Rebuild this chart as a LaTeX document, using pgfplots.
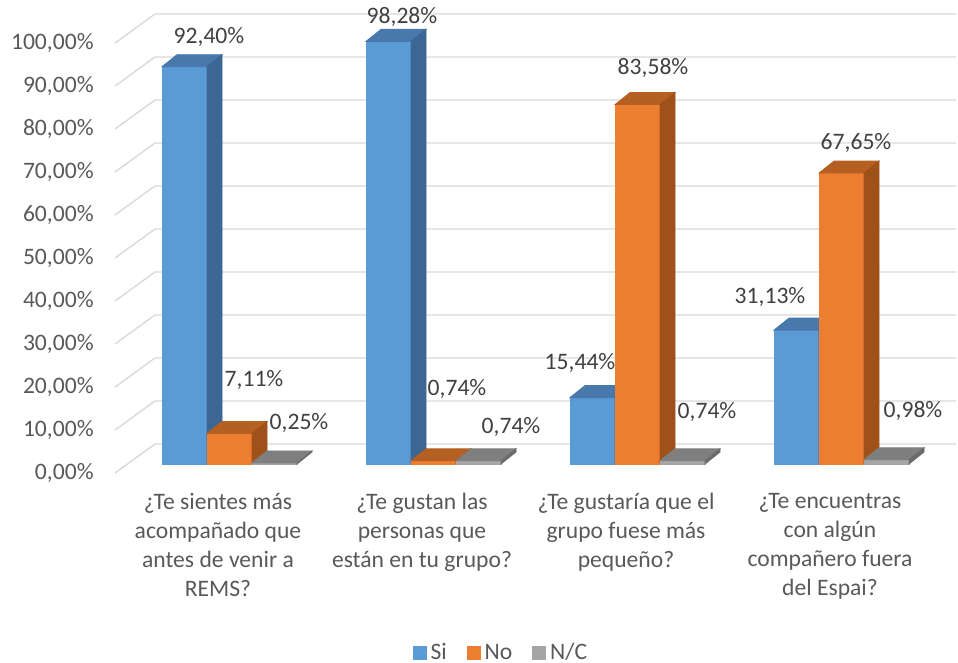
\documentclass[border=0pt]{standalone}
\usepackage{pgfplots}
\pgfplotsset{compat=1.18}
\usepackage{pgfplotstable}
\usepackage{fontspec}
\setmainfont{Carlito}

\definecolor{siF}{HTML}{5B9BD5}
\definecolor{siS}{HTML}{3C6795}
\definecolor{siT}{HTML}{4878AC}
\definecolor{noF}{HTML}{ED7D31}
\definecolor{noS}{HTML}{9E5219}
\definecolor{noT}{HTML}{B65F22}
\definecolor{ncF}{HTML}{A5A5A5}
\definecolor{ncS}{HTML}{6B6B6B}
\definecolor{ncT}{HTML}{7F7F7F}
\definecolor{gridc}{HTML}{D9D9D9}
\definecolor{txt}{HTML}{595959}
\definecolor{lbl}{HTML}{404040}

% 3d column drawn at the front-top point: front face, top, right side (\val = value)
\newcommand\declbox[4]{%
  \pgfdeclareplotmark{#1}{%
    \fill[#2] (-11.25pt,0pt) rectangle (11.25pt,-\val*2.15pt);
    \fill[#4] (-11.25pt,0pt) -- (11.25pt,0pt) -- (18.75pt,6pt) -- (-3.75pt,6pt) -- cycle;
    \fill[#3] (11.25pt,0pt) -- (18.75pt,6pt) -- (18.75pt,6pt-\val*2.15pt) -- (11.25pt,-\val*2.15pt) -- cycle;
  }}
\declbox{boxsi}{siF}{siS}{siT}
\declbox{boxno}{noF}{noS}{noT}
\declbox{boxnc}{ncF}{ncS}{ncT}

% x = column centre (px), y = value, dx/dy = label offset (px)
\pgfplotstableread{
x y dx dy
184.5 92.40 24.5 29.7
388.5 98.28 13.5 24.4
592.5 15.44 -12.5 34.6
796.5 31.13 -26.5 33.1
}\si
\pgfplotstableread{
x y dx dy
229.5 7.11 24.5 53.4
433.5 0.74 23.5 71.8
637.5 83.58 15.5 36.6
841.5 67.65 14.5 30.1
}\no
\pgfplotstableread{
x y dx dy
274.5 0.25 24.5 39.9
478.5 0.74 32.5 33.8
682.5 0.74 24.5 48.8
886.5 0.98 26.5 48.8
}\nc

% oblique gridlines: front edge, back wall
\pgfplotstableread{
x y
115 -2.093
155 4.651
956 4.651
nan nan
115 7.907
155 14.651
956 14.651
nan nan
115 17.907
155 24.651
956 24.651
nan nan
115 27.907
155 34.651
956 34.651
nan nan
115 37.907
155 44.651
956 44.651
nan nan
115 47.907
155 54.651
956 54.651
nan nan
115 57.907
155 64.651
956 64.651
nan nan
115 67.907
155 74.651
956 74.651
nan nan
115 77.907
155 84.651
956 84.651
nan nan
115 87.907
155 94.651
956 94.651
nan nan
115 97.907
155 104.651
956 104.651
}\gridtab

\pgfplotsset{
  bar3d/.style={
    only marks,
    mark=#1,
    visualization depends on={rawy \as \val},
    visualization depends on={\thisrow{dx} \as \dx},
    visualization depends on={\thisrow{dy} \as \dy},
    nodes near coords={\pgfmathprintnumber[fixed,fixed zerofill,precision=2,use comma,assume math mode=true]{\pgfplotspointmeta}\%},
    every node near coord/.append style={anchor=center, text=lbl, xshift=\dx*0.5pt, yshift=\dy*0.5pt},
  },
}

\begin{document}
\begin{tikzpicture}
\begin{axis}[
    x=0.5pt, y=2.15pt,
    xmin=0, xmax=958, ymin=-46.279, ymax=107.907,
    clip=false,
    axis line style={draw=none},
    tick style={draw=none},
    font=\fontsize{11.8}{14.5}\selectfont,
    ytick={-2.093,7.907,17.907,27.907,37.907,47.907,57.907,67.907,77.907,87.907,97.907},
    yticklabels={{0,00\%},{10,00\%},{20,00\%},{30,00\%},{40,00\%},{50,00\%},{60,00\%},{70,00\%},{80,00\%},{90,00\%},{100,00\%}},
    yticklabel style={anchor=east, xshift=50.35pt, text=txt},
    xtick={218,422,626,830},
    xticklabels={
      {¿Te sientes más\\acompañado que\\antes de venir a\\REMS?},
      {¿Te gustan las\\personas que\\están en tu grupo?},
      {¿Te gustaría que el\\grupo fuese más\\pequeño?},
      {¿Te encuentras\\con algún\\compañero fuera\\del Espai?}},
    xticklabel style={align=center, anchor=north, yshift=88.25pt, text=txt},
    legend columns=3,
    legend style={at={(0.524,0.015)}, anchor=center, draw=none, fill=none,
      text=txt, /tikz/every even column/.append style={column sep=8pt}},
]
\addplot[gridc, line width=0.7pt, unbounded coords=jump, forget plot] table {\gridtab};

\addplot[bar3d=boxsi, legend image code/.code={\fill[siF] (0pt,-3.25pt) rectangle (6.5pt,3.25pt);}] table[x=x,y=y] {\si};
\addlegendentry{Si}
\addplot[bar3d=boxno, legend image code/.code={\fill[noF] (0pt,-3.25pt) rectangle (6.5pt,3.25pt);}] table[x=x,y=y] {\no};
\addlegendentry{No}
\addplot[bar3d=boxnc, legend image code/.code={\fill[ncF] (0pt,-3.25pt) rectangle (6.5pt,3.25pt);}] table[x=x,y=y] {\nc};
\addlegendentry{N/C}
\end{axis}
\pgfresetboundingbox
\path[use as bounding box] (current axis.south west) rectangle (current axis.north east);
\end{tikzpicture}
\end{document}
